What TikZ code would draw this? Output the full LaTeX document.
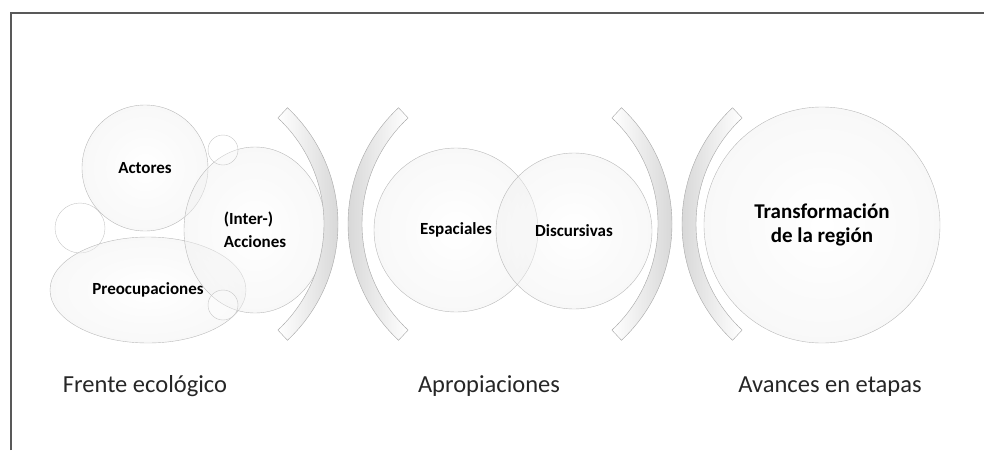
\documentclass[tikz,border=0pt]{standalone}
\usepackage{fontspec}
\setmainfont{Carlito}
\usetikzlibrary{calc, shapes.geometric}

\begin{document}
\begin{tikzpicture}
		[x=1pt, y=-1pt,
		burbuja/.style = {draw=gray!55, circle, inner sep=0pt, shade, inner color=white, outer color=gray!12, fill opacity=0.45, text opacity=1, font=\bfseries\fontsize{17}{23}\selectfont},
		ovalo/.style = {burbuja, ellipse},
		gota/.style = {draw=gray!45, circle, inner sep=0pt, fill=white, fill opacity=0.3},
		arcoder/.style = {draw=gray!70, left color=white, right color=gray!35},
		arcoizq/.style = {draw=gray!70, left color=gray!35, right color=white},
		etiqueta/.style = {anchor=base, text=black!85, font=\fontsize{24.5}{28}\selectfont}]
		
		\useasboundingbox (0,0) rectangle (984,450);
		\draw[black!65, line width=2pt] (10.5,450) -- (10.5,12.7) -- (984,12.7);
		
		% frente ecologico
		\node[gota, minimum size=50pt] (gotaizq) at (80,228) {};
		\node[burbuja, minimum size=126pt] (actores) at (145,168) {Actores};
		\node[ovalo, minimum width=196pt, minimum height=106pt] (preocupaciones) at (148,290) {Preocupaciones};
		\node[ovalo, minimum width=142pt, minimum height=166pt, align=left] (acciones) at (255,230) {(Inter-)\\Acciones};
		\node[gota, minimum size=30pt] (gotasup) at (223,150) {};
		\node[gota, minimum size=30pt] (gotainf) at (223,305) {};
		
		% apropiaciones
		\node[burbuja, minimum size=164pt] (espaciales) at (456,230) {Espaciales};
		\node[burbuja, minimum size=156pt] (discursivas) at (574,231) {Discursivas};
		
		% avances
		\node[burbuja, minimum size=236pt, align=center, font=\bfseries\fontsize{21}{23.5}\selectfont] (transformacion) at (822,225) {Transformación\\de la región};
		
		% parentesis
		\foreach \cx/\a/\sombra in {
			179/-47/arcoder,
			507/133/arcoizq,
			513/-47/arcoder,
			841/133/arcoizq}
		{
			\draw[\sombra] ($(\cx,224)+(\a:159)$) arc[start angle=\a, end angle=\a+94, radius=159]
				-- ($(\cx,224)+(\a+94:145)$) arc[start angle=\a+94, end angle=\a, radius=145] -- cycle;
		}
		
		\node[etiqueta] (frente) at (145,392) {Frente ecológico};
		\node[etiqueta] (apropiaciones) at (489,392) {Apropiaciones};
		\node[etiqueta] (avances) at (830,392) {Avances en etapas};
		
	\end{tikzpicture}
\end{document}
